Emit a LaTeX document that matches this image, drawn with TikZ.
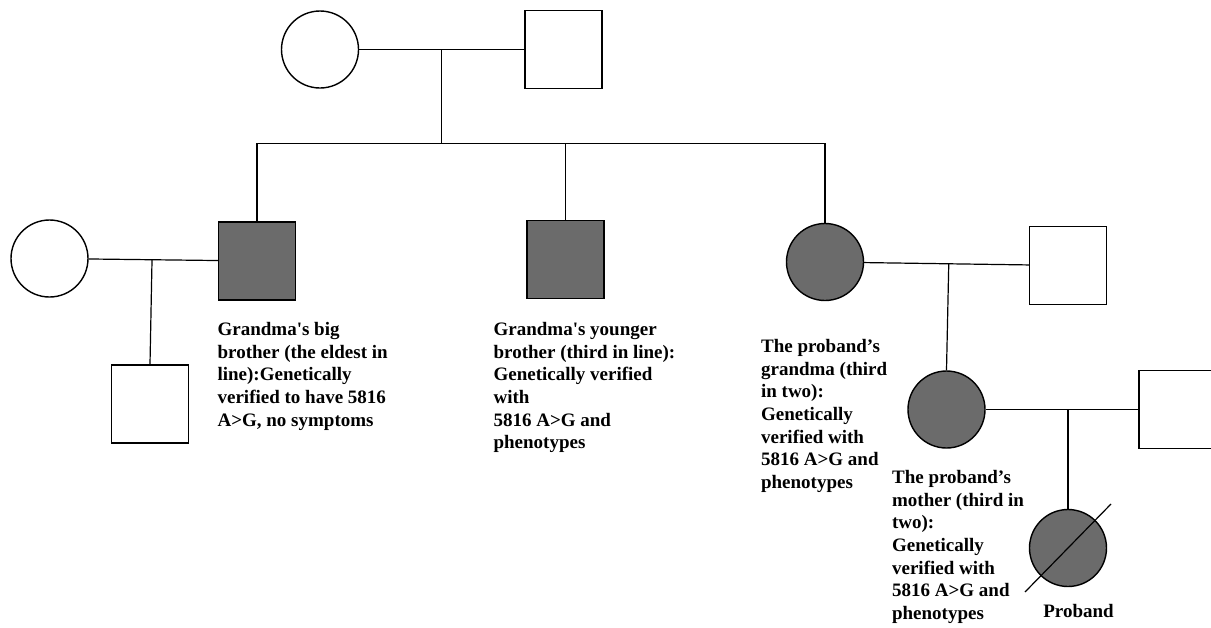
\documentclass[tikz,border=0pt]{standalone}
\usepackage{fontspec}
\setmainfont{Liberation Serif}
\usetikzlibrary{calc}
\definecolor{affgray}{HTML}{6B6B6B}

\begin{document}
\begin{tikzpicture}[x=1pt, y=-1pt, line width=1.2pt,
        female/.style={circle, draw, line width=1.4pt, minimum size=77pt, inner sep=0pt},
        male/.style={rectangle, draw, line width=1.4pt, minimum width=77pt, minimum height=78pt, inner sep=0pt},
        affected/.style={fill=affgray},
        note/.style={anchor=north west, align=left, inner sep=0pt, font=\bfseries\fontsize{19}{22.6}\selectfont}]
            \useasboundingbox (0,0) rectangle (1211,627);
            \clip (0,0) rectangle (1211,627);

            % first generation
            \node[female] (ggma) at (320, 49.5) {};
            \node[male] (ggpa) at (563.5, 49.5) {};
            \draw (ggma) -- (ggpa);
            \coordinate (m1) at ($(ggma.east)!0.5!(ggpa.west)$);
            \draw (m1) -- ++(0, 94) coordinate (sib);

            % second generation
            \node[female] (wife) at (49.5, 258.5) {};
            \node[male, affected] (bro1) at (257, 261) {};
            \node[male, affected] (bro2) at (565.5, 259.5) {};
            \node[female, affected] (gma) at (825, 262) {};
            \node[male] (gpa) at (1068, 265.5) {};
            \draw (bro1.north) |- (sib) -| (gma.north);
            \draw (bro2.north) -- (bro2.north |- sib);
            \draw (wife) -- (bro1);
            \draw (gma) -- (gpa);

            % third generation
            \node[male] (son) at (150, 404) {};
            \draw (son.north) -- ($(wife.east)!(son.north)!(bro1.west)$);
            \node[female, affected] (mom) at (946.5, 409.5) {};
            \node[male] (dad) at (1177.5, 409.5) {};
            \draw (mom.north) -- ($(gma.east)!(mom.north)!(gpa.west)$);
            \draw (mom) -- (dad);

            % proband
            \node[female, affected] (pb) at (1068, 548) {};
            \draw (pb.north) -- (pb.north |- mom.east);
            \draw ([shift={(-43,44)}]pb.center) -- ([shift={(43,-44)}]pb.center);

            % notes
            \node[note] (bro1note) at (217, 322) {Grandma\textquotesingle s big\\brother (the eldest in\\line):Genetically\\verified to have 5816\\A>G, no symptoms};
            \node[note] (bro2note) at (493, 322) {Grandma\textquotesingle s younger\\brother (third in line):\\Genetically verified\\with\\5816 A>G and\\phenotypes};
            \node[note] (gmanote) at (760.5, 339) {The proband’s\\grandma (third\\in two):\\Genetically\\verified with\\5816 A>G and\\phenotypes};
            \node[note] (momnote) at (891.5, 470) {The proband’s\\mother (third in\\two):\\Genetically\\verified with\\5816 A>G and\\phenotypes};
            \node[note, anchor=center] (pbnote) at (1078.5, 611) {Proband};
        \end{tikzpicture}
\end{document}
